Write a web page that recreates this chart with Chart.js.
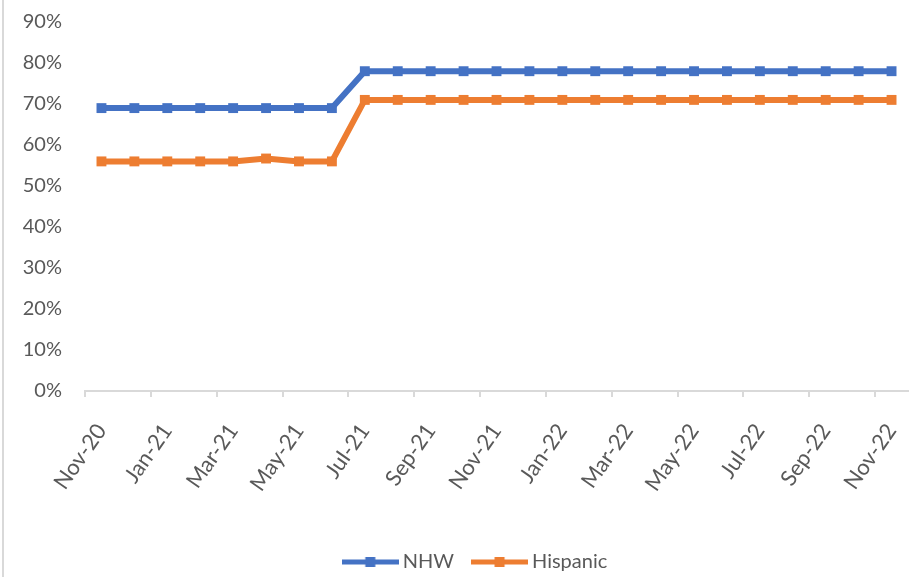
<!DOCTYPE html>
<html>
<head>
<meta charset="utf-8">
<script src="https://cdn.jsdelivr.net/npm/chart.js@4.4.1/dist/chart.umd.min.js"></script>
<style>
  html, body { margin: 0; padding: 0; background: #fff; overflow: hidden; }
  #wrap { position: relative; width: 910px; height: 577px; overflow: hidden; }
  #wrap::before { content: ""; position: absolute; left: 2px; top: 0; bottom: 0; width: 2px; background: #d9d9d9; z-index: 1; }
  canvas { display: block; }
</style>
</head>
<body>
<div id="wrap"><canvas id="c" width="915" height="577"></canvas></div>
<script>
// Monthly categories, Nov-20 .. Nov-22
const months = ['Nov-20','Dec-20','Jan-21','Feb-21','Mar-21','Apr-21','May-21','Jun-21','Jul-21','Aug-21','Sep-21','Oct-21',
                'Nov-21','Dec-21','Jan-22','Feb-22','Mar-22','Apr-22','May-22','Jun-22','Jul-22','Aug-22','Sep-22','Oct-22','Nov-22'];

// Share (%) per month
const nhw      = [69,69,69,69,69,69,69,69,78,78,78,78,78,78,78,78,78,78,78,78,78,78,78,78,78];
const hispanic = [56,56,56,56,56,56.7,56,56,71,71,71,71,71,71,71,71,71,71,71,71,71,71,71,71,71];

const yTicks = [0,10,20,30,40,50,60,70,80,90];

const seriesNames = ['NHW', 'Hispanic'];
const colors = ['#4472C4', '#ED7D31'];
const textGray = '#595959';
const fontFamily = 'Lato, "DejaVu Sans", sans-serif';

// Legend swatch: thick line with a square marker in the middle
function swatch(color) {
  const c = document.createElement('canvas');
  c.width = 57; c.height = 12;
  const g = c.getContext('2d');
  g.fillStyle = color;
  g.fillRect(0, 3.5, 57, 5);
  g.fillRect(23.5, 1, 10, 10);
  return c;
}

// Nudge the legend block horizontally/vertically after layout
const legendShift = {
  id: 'legendShift',
  afterLayout(chart) {
    const lg = chart.legend;
    if (!lg) return;
    lg.left += 20; lg.right += 20;
    lg.top += 5; lg.bottom += 5;
  }
};

new Chart(document.getElementById('c'), {
  type: 'line',
  data: {
    labels: months,
    datasets: [nhw, hispanic].map((d, i) => ({
      label: seriesNames[i],
      data: d,
      borderColor: colors[i],
      backgroundColor: colors[i],
      borderWidth: 6,
      pointStyle: 'rect',
      pointRadius: 7,
      pointBorderWidth: 0,
      tension: 0
    }))
  },
  options: {
    responsive: false,
    animation: false,
    layout: { padding: { top: 22, right: 0, left: 0, bottom: 0 } },
    plugins: {
      tooltip: { enabled: false },
      legend: {
        position: 'bottom',
        labels: {
          usePointStyle: true,
          pointStyleWidth: 45,
          padding: 23,
          color: textGray,
          font: { family: fontFamily, size: 20 },
          generateLabels(chart) {
            return chart.data.datasets.map((ds, i) => ({
              text: ds.label,
              pointStyle: swatch(colors[i]),
              fillStyle: colors[i],
              strokeStyle: colors[i],
              lineWidth: 0,
              fontColor: textGray,
              hidden: false,
              datasetIndex: i
            }));
          }
        }
      }
    },
    scales: {
      x: {
        offset: true,
        grid: {
          offset: true,
          drawOnChartArea: false,
          drawTicks: true,
          tickLength: 6,
          lineWidth: 2,
          color: ctx => (ctx.index !== undefined && ctx.index % 2 === 0) ? '#d9d9d9' : 'rgba(0,0,0,0)'
        },
        border: { display: true, color: '#d9d9d9', width: 2 },
        ticks: {
          autoSkip: false,
          minRotation: 55,
          maxRotation: 55,
          padding: 22,
          color: textGray,
          font: { family: fontFamily, size: 22 },
          callback: (v, i) => (i % 2 === 0 ? months[i] : '')
        },
        afterFit(scale) { scale.height = 133; scale.paddingLeft = 0; scale.paddingRight = 0; }
      },
      y: {
        min: 0,
        max: 90,
        afterBuildTicks(scale) { scale.ticks = yTicks.map(v => ({ value: v })); },
        grid: { display: false, drawTicks: false },
        border: { display: false },
        ticks: {
          padding: 23,
          color: textGray,
          font: { family: fontFamily, size: 20 },
          callback: v => v + '%'
        },
        afterFit(scale) { scale.width = 85; scale.paddingTop = 0; scale.paddingBottom = 0; }
      }
    }
  },
  plugins: [legendShift]
});
</script>
</body>
</html>
